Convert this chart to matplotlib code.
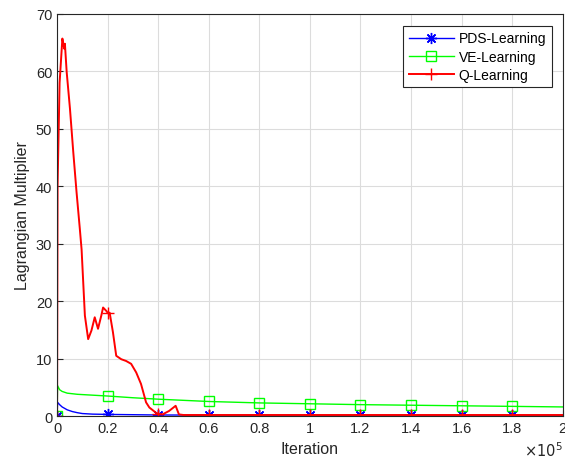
import matplotlib.pyplot as plt
from matplotlib.ticker import FuncFormatter

plt.rcParams['font.family'] = ['Liberation Sans', 'DejaVu Sans']

# values (x = iteration)
pds_x = [0, 200, 1000, 2000, 4000, 6000, 8000, 10000, 14000, 20000, 30000, 40000,
         60000, 80000, 100000, 120000, 140000, 160000, 180000, 200000]
pds_y = [0, 2.4, 2.0, 1.6, 1.1, 0.8, 0.6, 0.45, 0.35, 0.3, 0.25, 0.2,
         0.18, 0.17, 0.16, 0.15, 0.15, 0.14, 0.14, 0.14]

ve_x = [0, 200, 1000, 2000, 4000, 8000, 12000, 20000, 30000, 40000, 60000,
        80000, 100000, 120000, 140000, 160000, 180000, 200000]
ve_y = [0, 5.3, 4.6, 4.3, 4.0, 3.8, 3.7, 3.5, 3.2, 2.95, 2.55,
        2.3, 2.15, 2.0, 1.9, 1.8, 1.7, 1.6]

q_x = [0, 200, 1000, 2100, 2600, 2900, 3100, 3800, 5100, 6400, 7700, 9000, 9700,
       11000, 12300, 13600, 14900, 16200, 17500, 18200, 19500, 20000, 20800, 22100,
       23400, 25400, 27300, 29300, 31300, 33200, 35200, 36500, 39100, 40000, 41700,
       44300, 46900, 48200, 50000, 60000, 80000, 100000, 120000, 140000, 160000,
       180000, 200000]
q_y = [0, 40, 58, 65.7, 64.5, 63.9, 64.8, 59.9, 53.5, 46, 39, 32.6, 29,
       17.5, 13.4, 14.9, 17.2, 15.2, 17.5, 18.9, 18.3, 18.0, 18.0, 14.6,
       10.5, 9.9, 9.6, 9.1, 7.6, 5.6, 2.4, 1.5, 0.6, 0.4, 0.3,
       0.9, 1.8, 0.3, 0.2, 0.2, 0.2, 0.2, 0.2, 0.2, 0.2,
       0.2, 0.2]

x_ticks = [0, 20000, 40000, 60000, 80000, 100000, 120000, 140000, 160000, 180000, 200000]
y_ticks = [0, 10, 20, 30, 40, 50, 60, 70]


def marker_idx(xs):
    return [i for i, v in enumerate(xs) if v in x_ticks[:-1]]


fig = plt.figure(figsize=(5.65, 4.64), dpi=100)
ax = fig.add_axes([0.101, 0.101, 0.895, 0.867])

ax.plot(pds_x, pds_y, color='#0000ff', marker=(8, 2, 0), markersize=8, linewidth=1.0,
        markevery=marker_idx(pds_x), label='PDS-Learning')
ax.plot(ve_x, ve_y, color='#00ff00', marker='s', markersize=7, markerfacecolor='none',
        linewidth=1.0, markevery=marker_idx(ve_x), label='VE-Learning')
ax.plot(q_x, q_y, color='#ff0000', marker='+', markersize=9, linewidth=1.4,
        markevery=marker_idx(q_x), label='Q-Learning')

ax.set_xlim(0, 200000)
ax.set_ylim(0, 70)
ax.set_xticks(x_ticks)
ax.set_yticks(y_ticks)
ax.xaxis.set_major_formatter(FuncFormatter(lambda v, p: '%g' % (v / 1e5)))
ax.grid(True, color='#dcdcdc', linewidth=0.8)
ax.set_axisbelow(True)
ax.tick_params(direction='in', labelsize=10.5, colors='#262626', length=4)
for s in ax.spines.values():
    s.set_color('#262626')
    s.set_linewidth(0.8)

ax.set_xlabel('Iteration', fontsize=11.5, color='#262626', labelpad=4)
ax.set_ylabel('Lagrangian Multiplier', fontsize=11.5, color='#262626', labelpad=4)
fig.text(0.995, 0.008, r'$\times10^5$', ha='right', va='bottom',
         fontsize=10.5, color='#262626')

leg = ax.legend(loc='upper right', bbox_to_anchor=(0.978, 0.970), fontsize=10,
                fancybox=False, framealpha=1, edgecolor='#262626',
                handlelength=3.3, handletextpad=0.3, borderpad=0.4,
                labelspacing=0.3, borderaxespad=0.0)
leg.get_frame().set_linewidth(0.8)

fig.savefig('out.png', dpi=100)
